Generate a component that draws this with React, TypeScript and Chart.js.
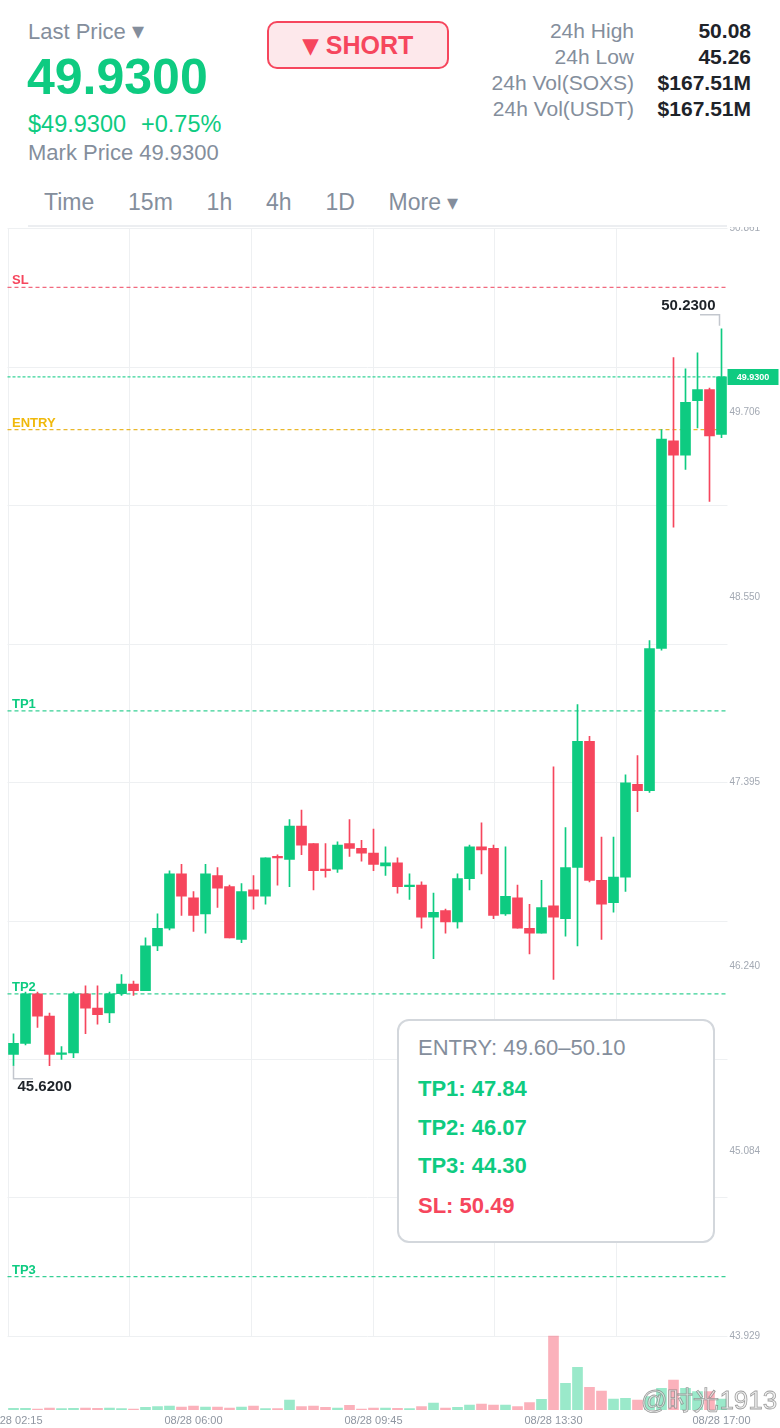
import React, { useEffect, useRef } from "react";
import { Chart, registerables } from "chart.js";

Chart.register(...registerables);

const FONT = "'Liberation Sans', Arial, sans-serif";
const GREEN = "#0ecb81";
const RED = "#f6465d";
const GOLD = "#f0b90b";
const GREY = "#848e9c";
const DARK = "#1e2329";
const GRID = "#eef0f2";

// 15-minute candles, 08/28
const TIMES = [
  "08/28 02:15", "08/28 02:30", "08/28 02:45", "08/28 03:00", "08/28 03:15", "08/28 03:30",
  "08/28 03:45", "08/28 04:00", "08/28 04:15", "08/28 04:30", "08/28 04:45", "08/28 05:00",
  "08/28 05:15", "08/28 05:30", "08/28 05:45", "08/28 06:00", "08/28 06:15", "08/28 06:30",
  "08/28 06:45", "08/28 07:00", "08/28 07:15", "08/28 07:30", "08/28 07:45", "08/28 08:00",
  "08/28 08:15", "08/28 08:30", "08/28 08:45", "08/28 09:00", "08/28 09:15", "08/28 09:30",
  "08/28 09:45", "08/28 10:00", "08/28 10:15", "08/28 10:30", "08/28 10:45", "08/28 11:00",
  "08/28 11:15", "08/28 11:30", "08/28 11:45", "08/28 12:00", "08/28 12:15", "08/28 12:30",
  "08/28 12:45", "08/28 13:00", "08/28 13:15", "08/28 13:30", "08/28 13:45", "08/28 14:00",
  "08/28 14:15", "08/28 14:30", "08/28 14:45", "08/28 15:00", "08/28 15:15", "08/28 15:30",
  "08/28 15:45", "08/28 16:00", "08/28 16:15", "08/28 16:30", "08/28 16:45", "08/28 17:00",
];

const OPEN = [
  45.69, 45.76, 46.07, 45.93, 45.69, 45.70, 46.07, 45.98, 45.95, 46.07,
  46.13, 46.09, 46.37, 46.48, 46.82, 46.67, 46.57, 46.81, 46.74, 46.41,
  46.72, 46.68, 46.93, 46.91, 47.12, 47.01, 46.85, 46.85, 47.01, 46.98,
  46.95, 46.87, 46.89, 46.74, 46.75, 46.55, 46.59, 46.52, 46.79, 46.99,
  46.98, 46.57, 46.67, 46.48, 46.45, 46.62, 46.54, 46.86, 47.65, 46.78,
  46.64, 46.80, 47.38, 47.34, 48.23, 49.53, 49.44, 49.78, 49.85, 49.57,
];
const HIGH = [
  45.82, 46.08, 46.08, 45.95, 45.74, 46.08, 46.12, 46.12, 46.08, 46.19,
  46.15, 46.42, 46.57, 46.84, 46.88, 46.71, 46.88, 46.86, 46.75, 46.76,
  46.81, 46.92, 46.94, 47.16, 47.22, 47.01, 47.01, 47.02, 47.16, 47.03,
  47.10, 46.99, 46.92, 46.82, 46.77, 46.70, 46.60, 46.82, 47.00, 47.14,
  47.00, 46.99, 46.75, 46.63, 46.78, 47.49, 47.11, 47.88, 47.68, 47.05,
  47.05, 47.44, 47.56, 48.28, 49.60, 50.05, 49.98, 50.08, 49.86, 50.23,
];
const LOW = [
  45.62, 45.75, 45.86, 45.62, 45.66, 45.67, 45.82, 45.88, 45.89, 46.06,
  46.06, 46.09, 46.34, 46.47, 46.56, 46.46, 46.45, 46.61, 46.42, 46.39,
  46.60, 46.63, 46.75, 46.74, 46.94, 46.72, 46.80, 46.83, 46.93, 46.90,
  46.84, 46.81, 46.70, 46.66, 46.48, 46.29, 46.45, 46.48, 46.72, 46.82,
  46.54, 46.56, 46.48, 46.32, 46.45, 46.16, 46.43, 46.37, 46.77, 46.41,
  46.58, 46.71, 47.21, 47.33, 48.22, 48.99, 49.35, 49.61, 49.15, 49.55,
];
const CLOSE = [
  45.76, 46.07, 45.93, 45.69, 45.70, 46.07, 45.98, 45.94, 46.07, 46.13,
  46.09, 46.37, 46.48, 46.82, 46.68, 46.56, 46.82, 46.73, 46.42, 46.71,
  46.68, 46.92, 46.92, 47.12, 47.00, 46.84, 46.84, 47.00, 46.98, 46.95,
  46.88, 46.89, 46.74, 46.75, 46.55, 46.58, 46.52, 46.79, 46.99, 46.97,
  46.56, 46.68, 46.48, 46.45, 46.61, 46.55, 46.86, 47.65, 46.78, 46.63,
  46.80, 47.39, 47.34, 48.23, 49.54, 49.44, 49.77, 49.85, 49.56, 49.93,
];
// volume, thousand shares
const VOLUME = [
  50, 50, 30, 60, 40, 50, 60, 50, 60, 40,
  30, 80, 100, 120, 90, 120, 90, 90, 60, 90,
  120, 40, 40, 300, 100, 120, 80, 60, 140, 30,
  60, 60, 50, 40, 100, 210, 60, 80, 150, 180,
  150, 150, 100, 220, 320, 2220, 800, 1280, 680, 570,
  330, 350, 300, 400, 650, 900, 650, 550, 550, 330,
];

const Y_TICKS = [50.861, 49.706, 48.55, 47.395, 46.24, 45.084, 43.929];
const X_LABEL_INDEX = [0, 15, 30, 45, 59];

const LEVEL_NAMES = ["SL", "ENTRY", "TP1", "TP2", "TP3"];
const LEVEL_VALUES = [50.49, 49.6, 47.84, 46.07, 44.3];
const LEVEL_COLORS = ["rgba(240,80,104,0.85)", "rgba(232,176,20,0.9)", "rgba(20,200,130,0.85)", "rgba(20,200,130,0.85)", "rgba(20,200,130,0.85)"];
const LABEL_COLORS = [RED, GOLD, GREEN, GREEN, GREEN];
const LAST_PRICE = 49.93;

const PANE_TOP = 50.861;
const PANE_BOTTOM = 43.929;
const VOL_PANE_RATIO = 74 / 1108; // volume pane height relative to price pane
const H_GRID_DIVS = 8;
const V_GRID_STEP = 10.14; // in candle units
const V_GRID_COUNT = 6;

const Y_MIN = PANE_BOTTOM - (PANE_TOP - PANE_BOTTOM) * VOL_PANE_RATIO;

const overlayPlugin = {
  id: "overlay",
  beforeDatasetsDraw(chart: any) {
    const { ctx, chartArea: ca, scales } = chart;
    const x = scales.x;
    const y = scales.y;
    ctx.save();
    ctx.lineWidth = 1;
    ctx.strokeStyle = GRID;
    const step = (PANE_TOP - PANE_BOTTOM) / H_GRID_DIVS;
    for (let k = 0; k <= H_GRID_DIVS; k++) {
      const py = Math.round(y.getPixelForValue(PANE_BOTTOM + k * step)) + 0.5;
      ctx.beginPath();
      ctx.moveTo(ca.left, py);
      ctx.lineTo(ca.right, py);
      ctx.stroke();
    }
    const yTop = y.getPixelForValue(PANE_TOP);
    const yBot = y.getPixelForValue(PANE_BOTTOM);
    for (let k = 0; k < V_GRID_COUNT; k++) {
      const px = Math.round(x.getPixelForValue(-0.5 + k * V_GRID_STEP)) + 0.5;
      ctx.beginPath();
      ctx.moveTo(px, yTop);
      ctx.lineTo(px, yBot);
      ctx.stroke();
    }
    // level lines
    ctx.font = `bold 13px ${FONT}`;
    ctx.textAlign = "left";
    ctx.textBaseline = "alphabetic";
    LEVEL_VALUES.forEach((v, i) => {
      const py = y.getPixelForValue(v);
      ctx.strokeStyle = LEVEL_COLORS[i];
      ctx.lineWidth = 1.3;
      ctx.setLineDash([4, 3]);
      ctx.beginPath();
      ctx.moveTo(ca.left, py);
      ctx.lineTo(ca.right, py);
      ctx.stroke();
      ctx.fillStyle = LABEL_COLORS[i];
      ctx.fillText(LEVEL_NAMES[i], ca.left + 4.5, Math.round(py) - 3.5);
    });
    // last price line
    const lp = y.getPixelForValue(LAST_PRICE);
    ctx.strokeStyle = "rgba(20,205,135,0.85)";
    ctx.lineWidth = 1.3;
    ctx.setLineDash([3, 2]);
    ctx.beginPath();
    ctx.moveTo(ca.left, lp);
    ctx.lineTo(ca.right, lp);
    ctx.stroke();
    ctx.restore();
  },
  afterDraw(chart: any) {
    const { ctx, chartArea: ca, scales } = chart;
    const x = scales.x;
    const y = scales.y;
    ctx.save();
    // last price tag
    const lp = y.getPixelForValue(LAST_PRICE);
    ctx.fillStyle = GREEN;
    ctx.fillRect(ca.right, Math.round(lp) - 8, 51, 16);
    ctx.fillStyle = "#ffffff";
    ctx.font = `bold 9px ${FONT}`;
    ctx.textAlign = "center";
    ctx.textBaseline = "middle";
    ctx.fillText(LAST_PRICE.toFixed(4), ca.right + 25.5, Math.round(lp) + 0.5);

    // high / low markers
    let hi = 0;
    let lo = 0;
    for (let i = 1; i < HIGH.length; i++) {
      if (HIGH[i] > HIGH[hi]) hi = i;
      if (LOW[i] < LOW[lo]) lo = i;
    }
    const hx = x.getPixelForValue(hi);
    const hy = y.getPixelForValue(HIGH[hi]);
    ctx.strokeStyle = "#c3c7ce";
    ctx.lineWidth = 1.5;
    ctx.beginPath();
    ctx.moveTo(Math.round(hx) - 2.5, hy - 3);
    ctx.lineTo(Math.round(hx) - 2.5, hy - 14);
    ctx.lineTo(Math.round(hx) - 22, hy - 14);
    ctx.stroke();
    ctx.fillStyle = DARK;
    ctx.font = `bold 15px ${FONT}`;
    ctx.textAlign = "right";
    ctx.textBaseline = "middle";
    ctx.fillText(HIGH[hi].toFixed(4), hx - 6, hy - 23);

    const lx = x.getPixelForValue(lo);
    const ly = y.getPixelForValue(LOW[lo]);
    ctx.beginPath();
    ctx.moveTo(Math.round(lx) - 0.5, ly);
    ctx.lineTo(Math.round(lx) - 0.5, ly + 13);
    ctx.lineTo(Math.round(lx) + 19, ly + 13);
    ctx.stroke();
    ctx.textAlign = "left";
    ctx.fillText(LOW[lo].toFixed(4), lx + 4, ly + 21);
    ctx.restore();
  },
};

function ChartCanvas() {
  const ref = useRef<HTMLCanvasElement | null>(null);
  useEffect(() => {
    document.body.style.margin = "0";
    const canvas = ref.current;
    if (!canvas) return;
    Chart.defaults.font.family = FONT;
    const up = OPEN.map((o, i) => CLOSE[i] >= o);
    const candleColors = up.map((u) => (u ? GREEN : RED));
    const volColors = up.map((u) => (u ? "rgba(14,203,129,0.42)" : "rgba(246,70,93,0.42)"));
    const maxVol = Math.max(...VOLUME);
    const chart = new Chart(canvas, {
      type: "bar",
      data: {
        labels: TIMES,
        datasets: [
          {
            label: "body",
            data: OPEN.map((o, i) => [o, CLOSE[i]]) as any,
            backgroundColor: candleColors,
            barThickness: 10,
            minBarLength: 1.5,
            grouped: false,
            yAxisID: "y",
            order: 1,
          } as any,
          {
            label: "wick",
            data: LOW.map((l, i) => [l, HIGH[i]]) as any,
            backgroundColor: candleColors,
            barThickness: 1,
            grouped: false,
            yAxisID: "y",
            order: 2,
          } as any,
          {
            label: "volume",
            data: VOLUME,
            backgroundColor: volColors,
            barThickness: 10,
            grouped: false,
            yAxisID: "yVol",
            order: 3,
          } as any,
        ],
      },
      options: {
        animation: false,
        responsive: false,
        events: [],
        layout: { padding: { left: 7.5, top: 1, right: 0, bottom: 0 } },
        plugins: { legend: { display: false }, tooltip: { enabled: false } },
        scales: {
          x: {
            type: "category",
            offset: true,
            grid: { display: false, drawTicks: false },
            border: { display: false },
            ticks: {
              autoSkip: false,
              maxRotation: 0,
              minRotation: 0,
              color: "#8f96a1",
              font: { size: 11, family: FONT },
              padding: 4,
              callback: (_v: any, i: number) => (X_LABEL_INDEX.includes(i) ? TIMES[i] : ""),
            },
            afterFit: (s: any) => {
              s.height = 18;
              s.paddingLeft = 0;
              s.paddingRight = 0;
            },
          },
          y: {
            position: "right",
            min: Y_MIN,
            max: PANE_TOP,
            grid: { display: false, drawTicks: false },
            border: { display: false },
            afterBuildTicks: (s: any) => {
              s.ticks = Y_TICKS.map((v) => ({ value: v }));
            },
            ticks: {
              color: "#a3a9b3",
              font: { size: 10, family: FONT },
              padding: 2,
              callback: (v: any) => Number(v).toFixed(3),
            },
            afterFit: (s: any) => {
              s.width = 52.5;
              s.paddingTop = 0;
              s.paddingBottom = 0;
            },
          },
          yVol: {
            display: false,
            min: 0,
            max: maxVol / VOL_PANE_RATIO + maxVol,
          },
        },
      } as any,
      plugins: [overlayPlugin],
    });
    return () => chart.destroy();
  }, []);
  return <canvas ref={ref} width={780} height={1201} style={{ position: "absolute", left: 0, top: 227, width: 780, height: 1201 }} />;
}

const STAT_LABELS = ["24h High", "24h Low", "24h Vol(SOXS)", "24h Vol(USDT)"];
const STAT_VALUES = ["50.08", "45.26", "$167.51M", "$167.51M"];
const TABS = ["Time", "15m", "1h", "4h", "1D"];

export default function App() {
  const abs = (o: React.CSSProperties): React.CSSProperties => ({ position: "absolute", whiteSpace: "nowrap", ...o });
  return (
    <div style={{ position: "absolute", left: 0, top: 0, width: 780, height: 1428, overflow: "hidden", background: "#fff", fontFamily: FONT }}>
      <div style={abs({ left: 28, top: 18, lineHeight: "26px", height: 26, fontSize: 22, color: GREY })}>
        Last Price <span style={{ fontSize: 24, lineHeight: "26px" }}>▾</span>
      </div>
      <div style={abs({ left: 27, top: 47, lineHeight: "60px", fontSize: 50, fontWeight: "bold", color: GREEN })}>49.9300</div>
      <div style={abs({ left: 28, top: 110, lineHeight: "28px", fontSize: 23.5, color: GREEN })}>
        $49.9300<span style={{ marginLeft: 15 }}>+0.75%</span>
      </div>
      <div style={abs({ left: 28, top: 140, lineHeight: "26px", fontSize: 22, color: GREY })}>Mark Price 49.9300</div>

      <div
        style={abs({
          left: 267,
          top: 21,
          width: 182,
          height: 48,
          boxSizing: "border-box",
          border: `2px solid ${RED}`,
          borderRadius: 10,
          background: "#fde8eb",
          display: "flex",
          alignItems: "center",
          justifyContent: "center",
          color: RED,
          fontWeight: "bold",
          fontSize: 25,
        })}
      >
        <span style={{ fontSize: 30, marginRight: 8, lineHeight: "30px" }}>▾</span>SHORT
      </div>

      {STAT_LABELS.map((l, i) => (
        <React.Fragment key={l}>
          <div style={abs({ right: 146, top: 18 + i * 26, lineHeight: "26px", fontSize: 21, color: GREY, textAlign: "right" })}>{l}</div>
          <div style={abs({ right: 29, top: 18 + i * 26, lineHeight: "26px", fontSize: 21, fontWeight: "bold", color: DARK, textAlign: "right" })}>
            {STAT_VALUES[i]}
          </div>
        </React.Fragment>
      ))}

      <div style={abs({ left: 44, top: 188, height: 28, lineHeight: "28px", fontSize: 23, color: GREY, display: "flex", gap: 33.8 })}>
        {TABS.map((t) => (
          <span key={t}>{t}</span>
        ))}
        <span>
          More <span style={{ fontSize: 22, lineHeight: "28px" }}>▾</span>
        </span>
      </div>

      <ChartCanvas />

      <div style={abs({ left: 28, top: 225, width: 699, height: 2, background: "#eceef1" })} />

      <div
        style={abs({
          left: 397,
          top: 1019,
          width: 318,
          height: 224,
          boxSizing: "border-box",
          border: "2px solid #d3d7dc",
          borderRadius: 12,
          background: "#fff",
          fontSize: 22,
        })}
      >
        <div style={abs({ left: 19, top: 14, lineHeight: "26px", color: GREY })}>ENTRY: 49.60–50.10</div>
        <div style={abs({ left: 19, top: 55, lineHeight: "26px", color: GREEN, fontWeight: "bold" })}>TP1: 47.84</div>
        <div style={abs({ left: 19, top: 94, lineHeight: "26px", color: GREEN, fontWeight: "bold" })}>TP2: 46.07</div>
        <div style={abs({ left: 19, top: 132, lineHeight: "26px", color: GREEN, fontWeight: "bold" })}>TP3: 44.30</div>
        <div style={abs({ left: 19, top: 172, lineHeight: "26px", color: RED, fontWeight: "bold" })}>SL: 50.49</div>
      </div>

      <div
        style={abs({
          left: 641,
          top: 1385,
          lineHeight: "30px",
          fontSize: 26,
          color: "rgba(235,235,235,0.75)",
          WebkitTextStroke: "0.8px rgba(120,120,120,0.7)",
        } as any)}
      >
        @时光1913
      </div>
    </div>
  );
}
